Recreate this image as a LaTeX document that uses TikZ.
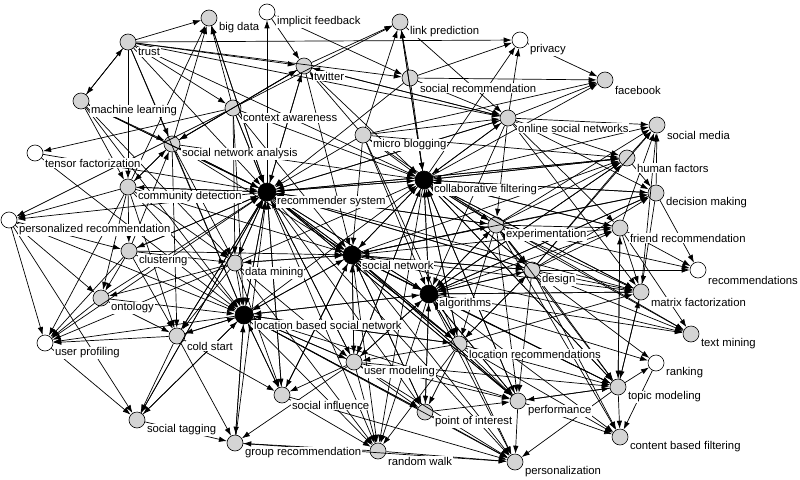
\documentclass[tikz,border=0pt]{standalone}
\usepackage{fontspec}
\setmainfont{Liberation Sans}
\usetikzlibrary{arrows.meta}
\definecolor{ndgray}{HTML}{D4D4D4}
\begin{document}
\begin{tikzpicture}[x=1pt,y=-1pt,
 nd/.style={circle,draw=black,fill=ndgray,minimum size=16pt,inner sep=0pt,line width=0.6pt},
 wn/.style={nd,fill=white},
 hb/.style={nd,fill=black,minimum size=18pt},
 lbl/.style={anchor=west,fill=white,inner sep=0.8pt,font=\fontsize{11.3}{13}\selectfont},
 arr/.style={-{Latex[length=8pt,width=5.5pt]},line width=0.7pt}]
\useasboundingbox[fill=white] (0,0) rectangle (800,479);
\def\nodelist{
 bd/209/18/nd/big data,
 if/267/12/wn/implicit feedback,
 tr/128/42/nd/trust,
 ml/81/101/nd/machine learning,
 ca/233/108/nd/context awareness,
 sna/172/144/nd/social network analysis,
 tf/35/153/wn/tensor factorization,
 cd/128/187/nd/community detection,
 rs/267/192/hb/recommender system,
 pr/9/220/wn/personalized recommendation,
 tw/304/66/nd/twitter,
 lp/400/22/nd/link prediction,
 pv/520/40/wn/privacy,
 sr/410/78/nd/social recommendation,
 osn/508/118/nd/online social networks,
 mb/363/135/nd/micro blogging,
 cf/424/180/hb/collaborative filtering,
 ex/496/225/nd/experimentation,
 fb/605/80/nd/facebook,
 sm/657/125/nd/social media,
 hf/627/158/nd/human factors,
 dm/656/193/nd/decision making,
 fr/620/228/nd/friend recommendation,
 cl/129/251/nd/clustering,
 on/101/298/nd/ontology,
 up/45/343/wn/user profiling,
 cs/177/336/nd/cold start,
 st/137/420/nd/social tagging,
 gr/235/443/nd/group recommendation,
 dmi/235/263/nd/data mining,
 lb/244/315/hb/location based social network,
 sn/352/255/hb/social network,
 al/429/294/hb/algorithms,
 lr/459/344/nd/location recommendations,
 um/354/362/nd/user modeling,
 si/282/395/nd/social influence,
 poi/425/412/nd/point of interest,
 rw/378/451/nd/random walk,
 pf/518/401/nd/performance,
 ps/515/462/nd/personalization,
 de/532/270/nd/design,
 rc/698/270/wn/recommendations,
 mf/641/292/nd/matrix factorization,
 tm/691/334/nd/text mining,
 rk/656/363/wn/ranking,
 to/618/387/nd/topic modeling,
 cbf/620/437/nd/content based filtering}
% circles
\foreach \id/\x/\y/\st/\txt in \nodelist
 {\node[\st] (\id) at (\x,\y) {};}
% edges
\foreach \s/\t in {
 tr/bd, tr/ml, ml/tr, tr/pv, tr/tw, tr/sr, tr/osn, tr/ca, tr/sna, tr/cd, tr/rs, tr/cf, tr/lb,
 ml/sna, ml/rs, ml/lb, ml/cd, ml/dmi,
 sna/bd, ca/bd, rs/bd, cd/bd,
 rs/if, if/sr, if/tw,
 ca/tf, ca/tw, ca/lp, ca/sna, ca/rs, ca/cf, ca/sn, ca/lb, ca/dmi, ca/pr,
 mb/lp, cf/lp, sr/lp, tw/lp,
 sna/tw, rs/tw, mb/tw,
 tw/osn, osn/tw, tw/cf, tw/rs, tw/sn, tw/sna,
 sr/pv, cf/pv, osn/pv, lp/osn,
 sr/osn, mb/osn, cf/osn, rs/osn,
 osn/fb, sr/fb, mb/fb, cf/fb, pv/fb,
 osn/sm, cf/sm, ex/sm, de/sm, mf/sm, fr/sm, dm/sm, hf/sm,
 osn/hf, cf/hf, rs/hf, ex/hf, sn/hf, de/hf, al/hf, mb/hf,
 cf/dm, osn/dm, ex/dm, de/dm, al/dm, sn/dm, hf/dm,
 ex/fr, cf/fr, de/fr, osn/fr, sn/fr, al/fr, to/fr,
 fr/rc, ex/rc, de/rc, dm/rc,
 fr/tm, de/tm, al/tm, ex/tm, sn/tm, cf/tm,
 cf/mf, ex/mf, de/mf, al/mf, sn/mf, rs/mf, lr/mf, osn/mf, to/mf, fr/mf, dm/mf,
 de/rk, to/rk, al/rk, rk/cbf,
 fr/to, mf/to, lr/to, al/to, sn/to, de/to, ex/to, pf/to, cf/to, um/to,
 pf/cbf, to/cbf, de/cbf, lr/cbf, al/cbf, ex/cbf,
 to/pf, lr/pf, al/pf, sn/pf, cf/pf, rs/pf, de/pf, ex/pf, um/pf, poi/pf, lb/pf,
 pf/ps, to/ps, lr/ps, lb/ps, al/ps, sn/ps, um/ps, si/ps, poi/ps, gr/ps, rs/ps, rw/ps,
 lb/rw, sn/rw, al/rw, um/rw, rs/rw, cf/rw, si/rw, lr/rw, dmi/rw,
 lb/poi, al/poi, sn/poi, um/poi, rs/poi, lr/poi,
 lb/gr, cs/gr, st/gr, rw/gr, um/gr,
 lb/si, rs/si, sn/si, dmi/si, um/si, cs/si,
 lb/um, sn/um, al/um, rs/um, cf/um, lr/um, dmi/um,
 al/lr, sn/lr, cf/lr, rs/lr, lb/lr, ex/lr, de/lr, mb/lr,
 up/st, pr/st, cs/st, lb/st, rs/st,
 pr/up, cl/up, on/up, cs/up, lb/up, dmi/up, cd/up,
 pr/on, cl/on, cd/on, dmi/on,
 cd/cl, rs/cl, pr/cl,
 cl/cs, on/cs, dmi/cs, lb/cs, rs/cs, cd/cs, sna/cs,
 rs/dmi, sn/dmi, cl/dmi, sna/dmi, cd/dmi,
 cd/sna, rs/cd, sna/cd, cd/pr, rs/pr, tf/lb, cl/sna, rs/sna,
 ml/rs, ca/rs, sna/rs, cd/rs, cl/rs, dmi/rs, bd/rs, mb/rs, sr/rs, lb/rs, sn/rs, al/rs, cf/rs, on/rs, cs/rs, um/rs, si/rs, gr/rs, ex/rs, osn/rs, de/rs, up/rs, st/rs, hf/rs, tf/rs, lr/rs, pf/rs,
 rs/cf, mb/cf, sr/cf, lp/cf, sn/cf, al/cf, ex/cf, osn/cf, sna/cf, de/cf, fr/cf, hf/cf, mf/cf, to/cf, lr/cf, um/cf, pf/cf, dmi/cf, lb/cf, dm/cf,
 rs/sn, cf/sn, sna/sn, cd/sn, dmi/sn, lb/sn, al/sn, ex/sn, mb/sn, de/sn, um/sn, si/sn, poi/sn, lr/sn, pf/sn, cl/sn,
 rs/al, cf/al, sn/al, ex/al, de/al, mf/al, lr/al, pf/al, um/al, poi/al, to/al, osn/al, hf/al, dm/al, mb/al, lb/al,
 rs/lb, sn/lb, al/lb, dmi/lb, cl/lb, cd/lb, on/lb, cs/lb, sna/lb, pr/lb, um/lb, si/lb, lr/lb, poi/lb, gr/lb, st/lb,
 cf/ex, rs/ex, sn/ex, al/ex, de/ex, mb/ex, osn/ex,
 ex/de, cf/de, al/de, sn/de, rs/de, lr/de}
 {\draw[arr] (\s) -- (\t);}
% labels on top
\foreach \id/\x/\y/\st/\txt in \nodelist
 {\node[lbl] (\id L) at ({\x+9},{\y+10}) {\txt};}
\end{tikzpicture}
\end{document}
